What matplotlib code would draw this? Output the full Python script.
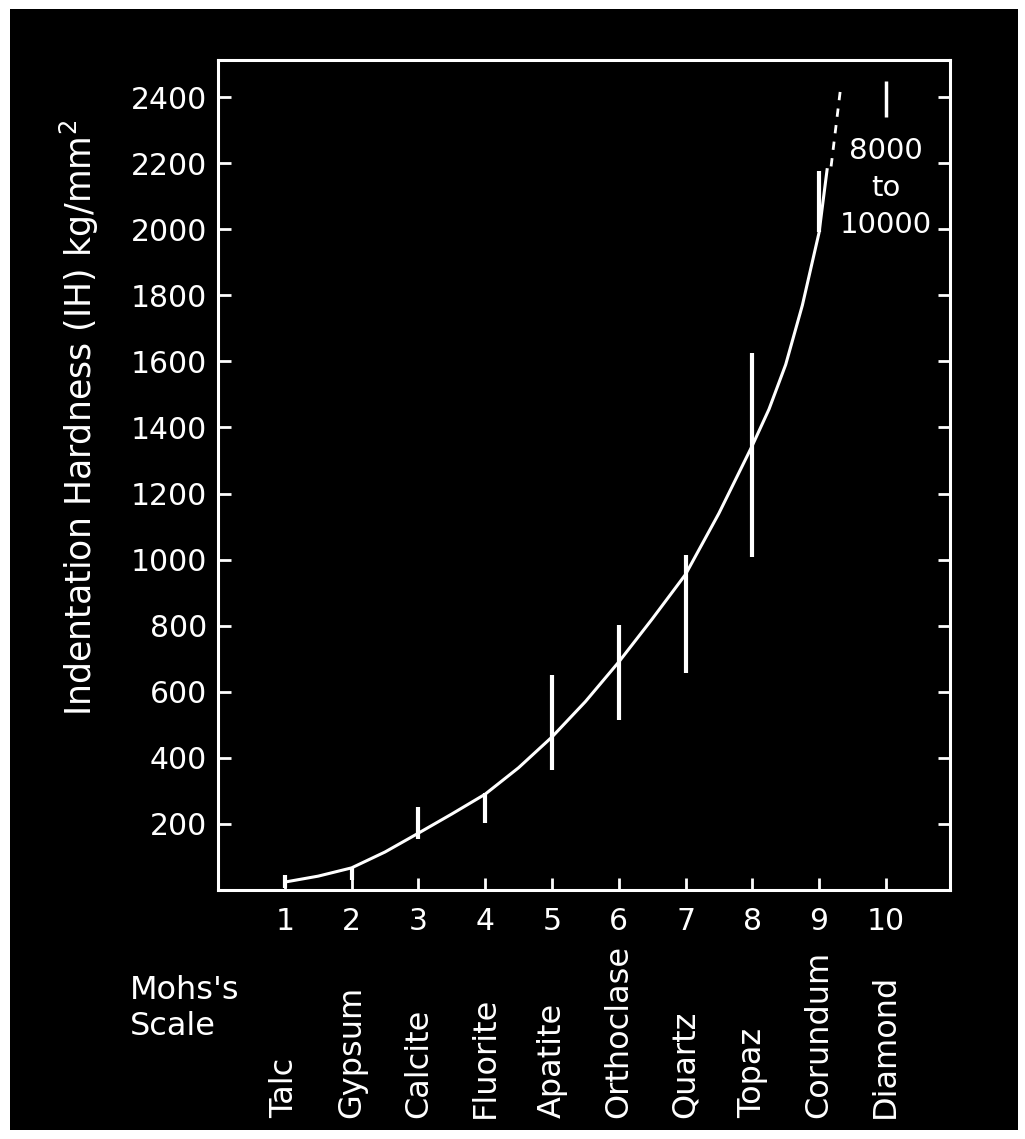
import matplotlib
matplotlib.use('Agg')
from matplotlib import pyplot as plt
from matplotlib.patches import Rectangle

plt.rcParams['font.family'] = ['DejaVu Sans']

# Mohs scale and mineral names
mohs = [1, 2, 3, 4, 5, 6, 7, 8, 9, 10]
minerals = ['Talc', 'Gypsum', 'Calcite', 'Fluorite', 'Apatite',
            'Orthoclase', 'Quartz', 'Topaz', 'Corundum', 'Diamond']

# ranges of indentation hardness (vertical bars), Talc..Corundum
bar_low = [5, 30, 155, 203, 363, 514, 656, 1007, 1990]
bar_high = [45, 70, 250, 293, 650, 801, 1013, 1625, 2175]

# fitted curve
curve_x = [1.0, 1.5, 2.0, 2.5, 3.0, 3.5, 4.0, 4.5, 5.0, 5.5, 6.0, 6.5,
           7.0, 7.5, 8.0, 8.25, 8.5, 8.75, 9.0, 9.12]
curve_y = [24, 42, 67, 115, 172, 230, 290, 370, 463, 570, 690, 820,
           955, 1140, 1345, 1455, 1590, 1770, 1990, 2180]

# dashed continuation towards diamond
dash_x = [9.18, 9.33]
dash_y = [2190, 2440]

# diamond (off scale)
diamond_bar = [2340, 2450]
diamond_text = '8000\nto\n10000'

yticks = [200, 400, 600, 800, 1000, 1200, 1400, 1600, 1800, 2000, 2200, 2400]

fig = plt.figure(figsize=(10.25, 11.39), dpi=100, facecolor='white')
fig.patches.append(Rectangle((10 / 1025, 9 / 1139), 1008 / 1025, 1121 / 1139,
                             transform=fig.transFigure, facecolor='black',
                             edgecolor='none', zorder=-10))

ax = fig.add_axes([0.2127, 0.2186, 0.7141, 0.7287])
ax.set_facecolor('black')

ax.plot(curve_x, curve_y, color='white', lw=2.2, solid_joinstyle='round')
ax.vlines(mohs[:9], bar_low, bar_high, color='white', lw=3)
ax.plot(dash_x, dash_y, color='white', lw=2, ls=(0, (3, 3)))
ax.vlines(mohs[9], diamond_bar[0], diamond_bar[1], color='white', lw=2.5)
ax.text(mohs[9], 2124, diamond_text, color='white', fontsize=21,
        ha='center', va='center', linespacing=1.4)

ax.set_xlim(0, 10.96)
ax.set_ylim(0, 2512)
ax.set_xticks(mohs)
ax.set_yticks(yticks)
ax.tick_params(colors='white', labelcolor='white', labelsize=21.5,
               direction='in', length=9, width=2)
ax.tick_params(axis='y', right=True, pad=8)
ax.tick_params(axis='x', pad=12)
for s in ax.spines.values():
    s.set_color('white')
    s.set_linewidth(2.2)

ax.set_ylabel('Indentation Hardness (IH) kg/mm$^2$', color='white',
              fontsize=25)
ax.yaxis.set_label_coords(-0.16, 0.569)

# mineral names under the axis
for m, name in zip(mohs, minerals):
    ax.text(m, -0.275, name, transform=ax.get_xaxis_transform(),
            rotation=90, ha='center', va='bottom', color='white', fontsize=23)

fig.text(130 / 1025, 1 - 1042 / 1139, "Mohs's\nScale", color='white',
         fontsize=23, ha='left', va='bottom', linespacing=1.2)

fig.savefig('out.png', dpi=100, facecolor=fig.get_facecolor())
